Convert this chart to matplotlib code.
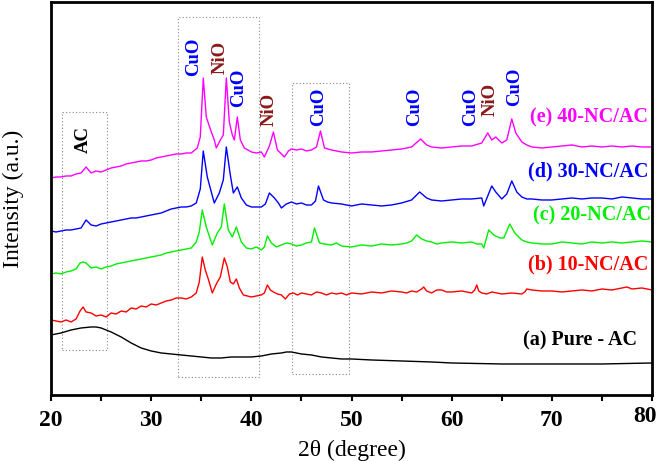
import matplotlib.pyplot as plt
from matplotlib.patches import Rectangle
from matplotlib.ticker import MultipleLocator

# 2theta / intensity (a.u.)
x_a = [20, 21, 22, 23, 24, 24.5, 25, 26, 27, 28, 29, 30, 31, 32, 33, 34, 35, 36, 37, 38, 39, 40,
       41, 42, 43, 43.5, 44, 45, 46, 47, 48, 49, 50, 52, 55, 58, 60, 65, 70, 75, 80]
y_a = [59, 61, 64, 66, 67, 67, 66, 62, 57, 51, 46, 43, 41, 40, 39, 38, 37, 36, 36, 37, 37, 37,
       38, 40, 41, 42, 42, 40, 39, 37, 36, 35, 35, 34, 33, 32, 31, 30, 30, 30, 31]

x_b = [20, 20.5, 21, 21.5, 22, 22.5, 22.9, 23.2, 23.5, 24, 24.5, 25, 25.5, 26, 26.5, 27, 27.5, 28,
       28.5, 29, 29.5, 30, 30.5, 31, 31.5, 32, 32.5, 33, 33.5, 34, 34.5, 34.8, 35.1, 35.4, 35.7,
       36.1, 36.5, 36.9, 37.3, 37.6, 37.9, 38.2, 38.5, 38.8, 39.2, 39.6, 40, 40.5, 41, 41.3, 41.6,
       41.9, 42.2, 42.6, 43, 43.4, 43.8, 44.2, 44.6, 45, 45.5, 46, 46.5, 47, 47.5, 48, 48.5, 49,
       49.5, 50, 51, 52, 53, 54, 55, 55.5, 56, 56.5, 57, 57.2, 57.5, 58, 58.5, 59, 59.5, 60, 61, 62,
       62.3, 62.5, 62.7, 63, 63.5, 64, 65, 66, 67, 67.3, 67.5, 68, 69, 70, 71, 72, 73, 74, 75, 76,
       77, 77.5, 78, 79, 80]
y_b = [74, 73, 72, 74, 72, 75, 83, 87, 82, 81, 78, 79, 77, 81, 80, 83, 82, 86,
       85, 88, 87, 90, 89, 91, 93, 94, 96, 96, 95, 97, 101, 112, 137, 124, 115,
       101, 110, 117, 136, 127, 112, 110, 115, 106, 99, 98, 97, 98, 99, 101, 109,
       104, 102, 100, 99, 95, 100, 101, 99, 101, 100, 99, 102, 101, 99, 101, 100, 101,
       99, 101, 100, 102, 101, 103, 102, 101, 103, 102, 105, 107, 103, 101, 104, 104, 102, 102, 103, 101,
       104, 109, 103, 101, 100, 102, 100, 101, 100, 102, 105, 104, 103, 103, 102, 103, 104, 103, 105, 104,
       106, 107, 105, 106, 104]

x_c = [20, 20.5, 21, 21.5, 22, 22.5, 22.9, 23.2, 23.5, 24, 24.5, 25, 25.5, 26, 26.5, 27, 27.5, 28,
       28.5, 29, 29.5, 30, 30.5, 31, 31.5, 32, 32.5, 33, 33.5, 34, 34.5, 34.8, 35.1, 35.5, 35.8,
       36.1, 36.6, 37, 37.3, 37.7, 38.1, 38.5, 39, 39.5, 40, 40.5, 41, 41.3, 41.6, 42, 42.5, 43,
       43.5, 44, 44.5, 45, 45.5, 46, 46.3, 46.8, 47.3, 48, 48.5, 49, 50, 51, 52, 53, 54, 55, 55.5,
       56, 56.5, 57, 57.5, 58, 58.5, 59, 60, 61, 62, 62.5, 63, 63.2, 63.7, 64.2, 64.8, 65.2, 65.8,
       66.3, 67, 67.5, 68, 69, 70, 71, 72, 73, 74, 75, 76, 77, 78, 79, 80]
y_c = [120, 121, 120, 122, 123, 125, 131, 132, 131, 126, 127, 125, 127, 128, 130, 131, 132, 133,
       134, 135, 136, 137, 138, 139, 141, 142, 143, 144, 145, 146, 152, 162, 184, 167, 158,
       149, 161, 167, 190, 164, 157, 167, 152, 146, 145, 147, 144, 147, 158, 151, 147, 149,
       151, 150, 148, 149, 151, 152, 166, 151, 150, 149, 151, 148, 147, 149, 148, 150, 149, 150, 151,
       153, 159, 155, 153, 152, 150, 151, 152, 151, 152, 150, 150, 146, 164, 159, 156, 156, 170,
       161, 154, 152, 151, 150, 150, 152, 151, 150, 152, 151, 152, 151, 152, 153, 152]

x_d = [20, 20.5, 21, 21.5, 22, 22.5, 23, 23.5, 24, 24.5, 25, 25.5, 26, 26.5, 27, 27.5, 28, 28.5,
       29, 29.5, 30, 30.5, 31, 31.5, 32, 32.5, 33, 33.5, 34, 34.5, 34.9, 35.2, 35.6, 36, 36.3,
       36.8, 37.2, 37.5, 37.9, 38.2, 38.6, 39, 39.5, 40, 40.5, 41, 41.4, 41.8, 42.3, 42.7, 43,
       43.5, 44, 44.5, 45, 45.5, 46, 46.4, 46.7, 47.2, 47.6, 48, 49, 50, 51, 52, 53, 54, 55, 56,
       56.8, 57.5, 58, 59, 60, 61, 62, 63, 63.2, 63.6, 64, 64.4, 65, 65.5, 66, 66.5, 67, 67.5, 68,
       69, 70, 71, 72, 73, 74, 75, 76, 77, 78, 79, 80]
y_d = [163, 162, 163, 164, 164, 165, 166, 174, 169, 168, 170, 171, 172, 173, 174, 175, 176, 176,
       177, 178, 179, 180, 181, 183, 185, 186, 187, 187, 188, 191, 205, 243, 217, 202, 191,
       201, 214, 247, 219, 201, 207, 196, 189, 187, 187, 187, 190, 201, 196, 191, 186,
       190, 192, 190, 191, 189, 189, 193, 208, 194, 192, 191, 190, 188, 190, 189, 188, 189, 191, 194,
       202, 196, 194, 193, 194, 195, 195, 196, 188, 198, 208, 202, 195, 200, 213, 202, 197, 195, 195,
       194, 194, 195, 196, 195, 196, 196, 195, 197, 196, 195, 195]

x_e = [20, 20.5, 21, 21.5, 22, 22.5, 23, 23.5, 24, 24.5, 25, 25.5, 26, 26.5, 27, 27.5, 28, 28.5,
       29, 29.5, 30, 30.5, 31, 31.5, 32, 32.5, 33, 33.5, 34, 34.6, 34.9, 35.2, 35.5, 36, 36.3,
       36.5, 36.9, 37.2, 37.5, 37.8, 38.1, 38.3, 38.6, 38.9, 39.3, 40, 40.5, 41, 41.3, 41.8, 42.2,
       42.6, 43, 43.3, 43.7, 44, 44.5, 45, 45.5, 46, 46.5, 46.9, 47.3, 48, 49, 50, 51, 52, 53, 54,
       55, 56, 56.9, 57.5, 58, 59, 60, 61, 62, 63, 63.6, 64, 64.4, 65, 65.5, 66, 66.4, 67, 67.5, 68,
       69, 70, 71, 72, 73, 74, 75, 76, 77, 78, 79, 80]
y_e = [216, 217, 217, 218, 218, 220, 221, 227, 221, 223, 222, 224, 226, 227, 228, 230, 231, 232,
       233, 233, 234, 236, 237, 238, 239, 240, 240, 241, 241, 246, 257, 316, 277, 262, 254,
       246, 254, 259, 316, 272, 259, 254, 277, 254, 246, 242, 241, 242, 237, 248, 262,
       244, 240, 237, 243, 245, 244, 245, 243, 244, 247, 263, 246, 244, 242, 241, 242, 242, 243, 244,
       245, 247, 255, 249, 247, 246, 247, 248, 248, 251, 261, 254, 257, 251, 254, 275, 261, 252, 249, 247,
       246, 247, 248, 249, 247, 248, 247, 248, 247, 248, 247, 247]

series_labels = ["(a) Pure - AC", "(b) 10-NC/AC", "(c) 20-NC/AC", "(d) 30-NC/AC", "(e) 40-NC/AC"]
series_colors = ["black", "#ff0000", "#00f000", "#0000ff", "#ff00ff"]
label_heights = [54, 129, 178, 222, 276]
label_right = [78.5, 79.6, 79.9, 79.6, 79.6]

peak_names = ["CuO", "NiO", "CuO", "NiO", "CuO", "CuO", "CuO", "NiO", "CuO"]
peak_pos = [34.2, 36.9, 38.7, 41.8, 46.7, 56.3, 61.9, 63.8, 66.3]
peak_heights = [337, 337, 306, 285, 287, 287, 287, 295, 307]

xtick_vals = [20, 30, 40, 50, 60, 70, 80]

plt.rcParams['font.family'] = ['Liberation Serif', 'DejaVu Serif']

fig = plt.figure(figsize=(6.61, 4.61), dpi=100)
ax = fig.add_axes([0.0772, 0.1432, 0.9092, 0.8525])

xs = [x_a, x_b, x_c, x_d, x_e]
ys = [y_a, y_b, y_c, y_d, y_e]
for xv, yv, col in zip(xs, ys, series_colors):
    ax.plot(xv, yv, color=col, lw=1.0)

for lab, col, h, xr in zip(series_labels, series_colors, label_heights, label_right):
    ax.text(xr, h, lab, color=col, fontsize=14.5, fontweight="bold", ha="right", va="center")

for name, p, h in zip(peak_names, peak_pos, peak_heights):
    col = "#0000ff" if name == "CuO" else "#8b1a1a"
    ax.text(p, h, name, color=col, fontsize=13.5, fontweight="bold", rotation=90,
            ha="center", va="center")
ax.text(23.2, 254, "AC", color="black", fontsize=13.5, fontweight="bold", rotation=90,
        ha="center", va="center")

# dotted boxes around the regions
for x0, x1, y0, y1 in [(21.07, 25.57, 44, 282), (32.67, 40.73, 17, 377), (44.1, 49.7, 20, 311)]:
    ax.add_patch(Rectangle((x0, y0), x1 - x0, y1 - y0, fill=False, ls=(0, (1, 2)),
                           lw=0.8, edgecolor="#888888"))

ax.set_xlim(20, 80)
ax.set_ylim(-1, 392)
ax.set_yticks([])
ax.set_xticks(xtick_vals)
# last label drawn separately, nudged left so it stays inside the figure
ax.set_xticklabels([str(v) for v in xtick_vals[:-1]] + [""], fontweight="bold")
ax.annotate(str(xtick_vals[-1]), xy=(xtick_vals[-1], 0), xycoords=("data", "axes fraction"),
            xytext=(-5, -8), textcoords="offset points", ha="center", va="top",
            fontsize=17, fontweight="bold")
ax.xaxis.set_minor_locator(MultipleLocator(5))
ax.tick_params(axis="x", which="both", direction="out", length=4, width=1.5)
ax.tick_params(axis="x", labelsize=17, pad=7)
for sp in ax.spines.values():
    sp.set_linewidth(2)

ax.set_xlabel("2θ (degree)", fontsize=17, labelpad=6)
ax.set_ylabel("Intensity (a.u.)", fontsize=17)
ax.yaxis.set_label_coords(-0.045, 0.5)

fig.savefig("out.png", dpi=100)
